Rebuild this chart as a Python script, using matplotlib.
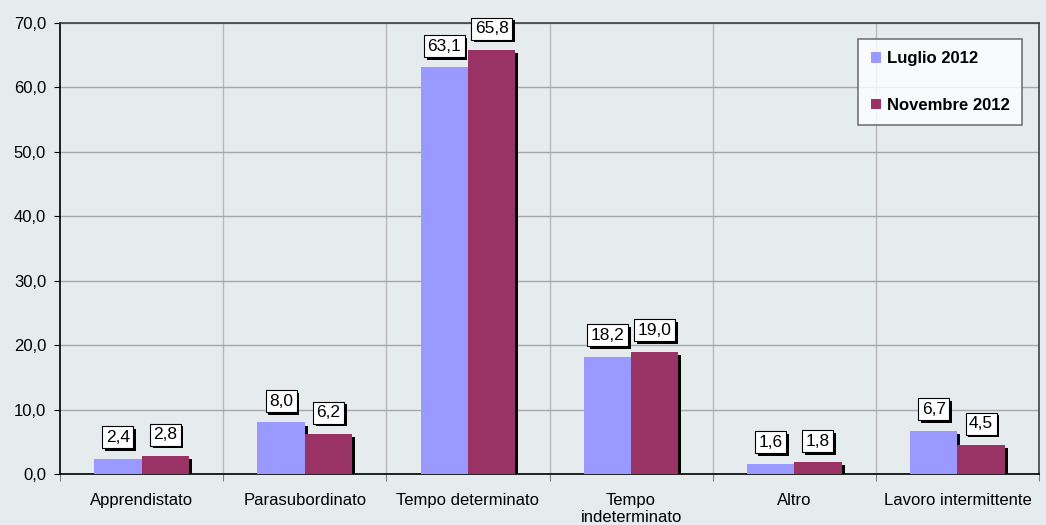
import matplotlib
matplotlib.use("Agg")
import matplotlib.pyplot as plt
import matplotlib.patheffects as pe
import numpy as np

categories = ["Apprendistato", "Parasubordinato", "Tempo determinato",
              "Tempo\nindeterminato", "Altro", "Lavoro intermittente"]
luglio = [2.4, 8.0, 63.1, 18.2, 1.6, 6.7]
novembre = [2.8, 6.2, 65.8, 19.0, 1.8, 4.5]
series_names = ["Luglio 2012", "Novembre 2012"]
yticks = [0, 10, 20, 30, 40, 50, 60, 70]

plt.rcParams['font.family'] = ['Liberation Sans', 'DejaVu Sans']

bg = "#e6ebee"
fig = plt.figure(figsize=(10.46, 5.25), dpi=100, facecolor=bg)
ax = fig.add_axes([60 / 1046, 51 / 525, 979 / 1046, 451 / 525])
ax.set_facecolor(bg)

x = np.arange(len(categories))
w = 0.29
shadow = [pe.SimplePatchShadow(offset=(2.2, -2.2), shadow_rgbFace="black", alpha=1), pe.Normal()]
b1 = ax.bar(x - w / 2, luglio, w, color="#9999ff", label=series_names[0], zorder=3)
b2 = ax.bar(x + w / 2, novembre, w, color="#993366", label=series_names[1], zorder=3)
for b in list(b1) + list(b2):
    b.set_path_effects(shadow)

for bars, vals in ((b1, luglio), (b2, novembre)):
    for b, v in zip(bars, vals):
        t = ax.annotate(f"{v:.1f}".replace(".", ","),
                        (b.get_x() + b.get_width() / 2, v),
                        xytext=(0, 10), textcoords="offset points",
                        ha="center", va="bottom", fontsize=12.5, zorder=5,
                        bbox=dict(boxstyle="square,pad=0.2", fc="white", ec="black", lw=0.8))
        t.get_bbox_patch().set_path_effects(
            [pe.SimplePatchShadow(offset=(2, -2), shadow_rgbFace="black", alpha=1), pe.Normal()])

ax.set_xlim(-0.5, len(categories) - 0.5)
ax.set_ylim(0, 70)
ax.set_yticks(yticks)
ax.set_yticklabels([f"{v:.1f}".replace(".", ",") for v in yticks], fontsize=12)
ax.yaxis.grid(True, color="#a8a8a8", lw=1, zorder=0)

# category boundaries: ticks and vertical gridlines
bounds = np.arange(len(categories) + 1) - 0.5
ax.set_xticks(bounds)
ax.set_xticklabels([])
ax.set_xticks(x, minor=True)
ax.set_xticklabels(categories, minor=True, fontsize=12, linespacing=1.15)
ax.tick_params(axis="x", which="minor", length=0, pad=14)
ax.tick_params(axis="x", which="major", length=5, direction="out", color="#808080")
ax.tick_params(axis="y", length=4, color="black", pad=6)
for bx in bounds[1:-1]:
    ax.axvline(bx, color="#b8b8b8", lw=1, zorder=0)

for s in ("left", "bottom"):
    ax.spines[s].set_color("black")
    ax.spines[s].set_linewidth(1.2)
for s in ("top", "right"):
    ax.spines[s].set_color("#404040")
    ax.spines[s].set_linewidth(1.2)

leg = ax.legend(loc="upper right", bbox_to_anchor=(0.9825, 0.965), frameon=True,
                fancybox=False, handlelength=0.6, handleheight=0.6, handletextpad=0.35,
                labelspacing=1.9, borderpad=0.75, borderaxespad=0,
                prop={"weight": "bold", "size": 12})
leg.get_frame().set_edgecolor("#555555")
leg.get_frame().set_linewidth(1.2)
for h in leg.legend_handles:
    h.set_path_effects([])

fig.savefig("out.png", dpi=100, facecolor=bg)
